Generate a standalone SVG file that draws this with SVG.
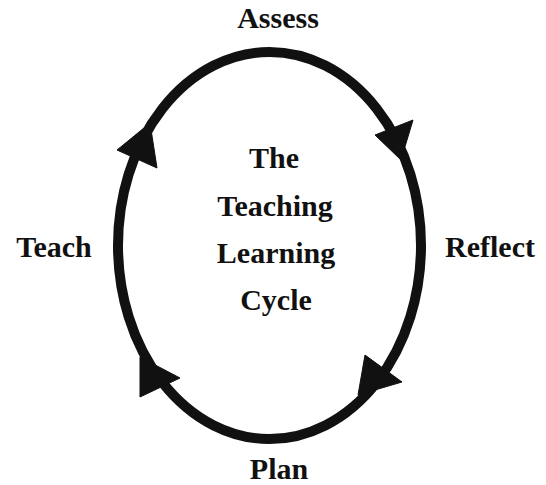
<svg xmlns="http://www.w3.org/2000/svg" width="546" height="485" viewBox="0 0 546 485">
  <style>
    .lbl { font-family: "Liberation Serif", "Times New Roman", serif; font-weight: bold; font-size: 30px; fill: #111; text-anchor: middle; }
    .ring { fill: none; stroke: #111; stroke-width: 10; }
    .head { fill: #111; stroke: #111; stroke-width: 1; stroke-linejoin: miter; }
  </style>
  <rect width="546" height="485" fill="#fff"/>
  <g id="connectors">
    <ellipse class="ring" cx="269.5" cy="245.5" rx="151.5" ry="193.5"/>
    <polygon class="head" points="117,150 157,168 150,123"/>
    <polygon class="head" points="375,135 413,120 401,160"/>
    <polygon class="head" points="180,378 140,397 140,357"/>
    <polygon class="head" points="365,355 402,382 358,395"/>
  </g>
  <g id="title">
    <text class="lbl" x="274" y="168">The</text>
    <text class="lbl" x="275" y="216">Teaching</text>
    <text class="lbl" x="276" y="263">Learning</text>
    <text class="lbl" x="276" y="310">Cycle</text>
  </g>
  <g id="assess"><text class="lbl" x="278" y="28">Assess</text></g>
  <g id="reflect"><text class="lbl" x="490" y="257">Reflect</text></g>
  <g id="plan"><text class="lbl" x="279" y="479">Plan</text></g>
  <g id="teach"><text class="lbl" x="54" y="257">Teach</text></g>
</svg>
